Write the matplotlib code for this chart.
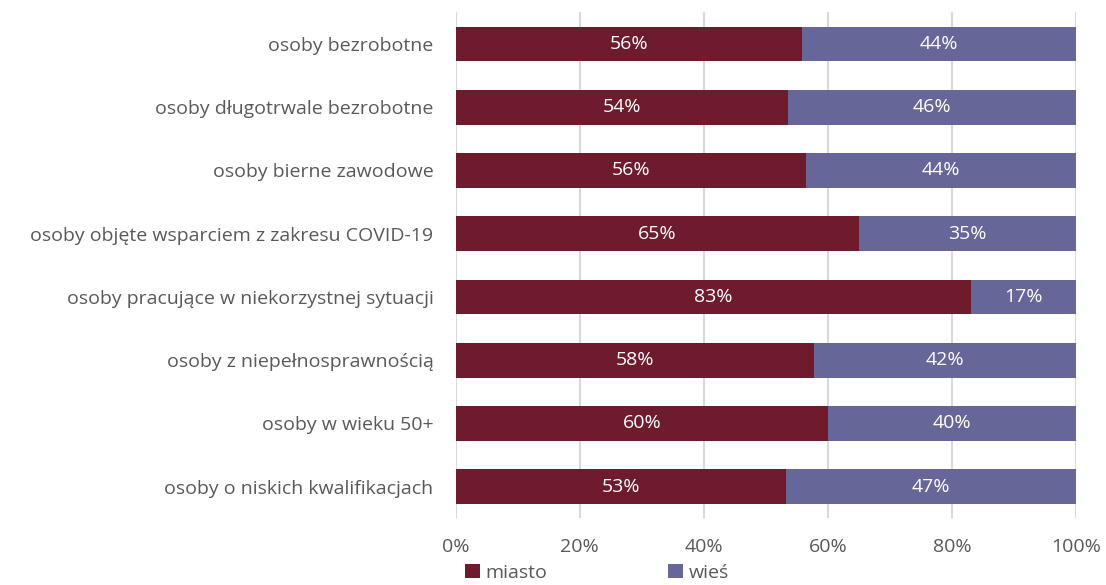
import matplotlib.pyplot as plt
import numpy as np

plt.rcParams['font.family'] = ['Open Sans', 'DejaVu Sans']

categories = ['osoby bezrobotne', 'osoby długotrwale bezrobotne', 'osoby bierne zawodowe',
              'osoby objęte wsparciem z zakresu COVID-19', 'osoby pracujące w niekorzystnej sytuacji',
              'osoby z niepełnosprawnością', 'osoby w wieku 50+', 'osoby o niskich kwalifikacjach']
miasto = [55.8, 53.5, 56.5, 65.0, 83.1, 57.7, 60.0, 53.2]
wies = [100 - v for v in miasto]
miasto_labels = ['56%', '54%', '56%', '65%', '83%', '58%', '60%', '53%']
wies_labels = ['44%', '46%', '44%', '35%', '17%', '42%', '40%', '47%']

c_miasto = '#6E1C2D'
c_wies = '#666699'
grey = '#595959'
fs = 14

fig = plt.figure(figsize=(11.06, 5.85), dpi=100)
ax = fig.add_axes([0.412, 0.114, 0.561, 0.865])

y = np.arange(len(categories))
b1 = ax.barh(y, miasto, height=0.55, color=c_miasto, label='miasto', zorder=3)
b2 = ax.barh(y, wies, left=miasto, height=0.55, color=c_wies, label='wieś', zorder=3)
ax.bar_label(b1, labels=miasto_labels, label_type='center', color='white', fontsize=fs)
ax.bar_label(b2, labels=wies_labels, label_type='center', color='white', fontsize=fs)

ax.set_ylim(len(categories) - 0.5, -0.5)
ax.set_xlim(0, 100)
ax.set_yticks(y)
ax.set_yticklabels(categories, fontsize=fs, color=grey)
ax.set_xticks([0, 20, 40, 60, 80, 100])
ax.set_xticklabels(['0%', '20%', '40%', '60%', '80%', '100%'], fontsize=fs, color=grey)
ax.tick_params(axis='y', length=0, pad=16)
ax.tick_params(axis='x', length=0, pad=14)
ax.grid(axis='x', color='#D9D9D9', linewidth=1.5, zorder=0)
for s in ax.spines.values():
    s.set_visible(False)

fig.legend(handles=[b1, b2], loc='lower left', bbox_to_anchor=(0.405, -0.025), ncol=2,
           frameon=False, fontsize=fs, handlelength=0.75, handleheight=0.75,
           handletextpad=0.3, columnspacing=6.2, labelcolor=grey)

fig.savefig('out.png', dpi=100)
